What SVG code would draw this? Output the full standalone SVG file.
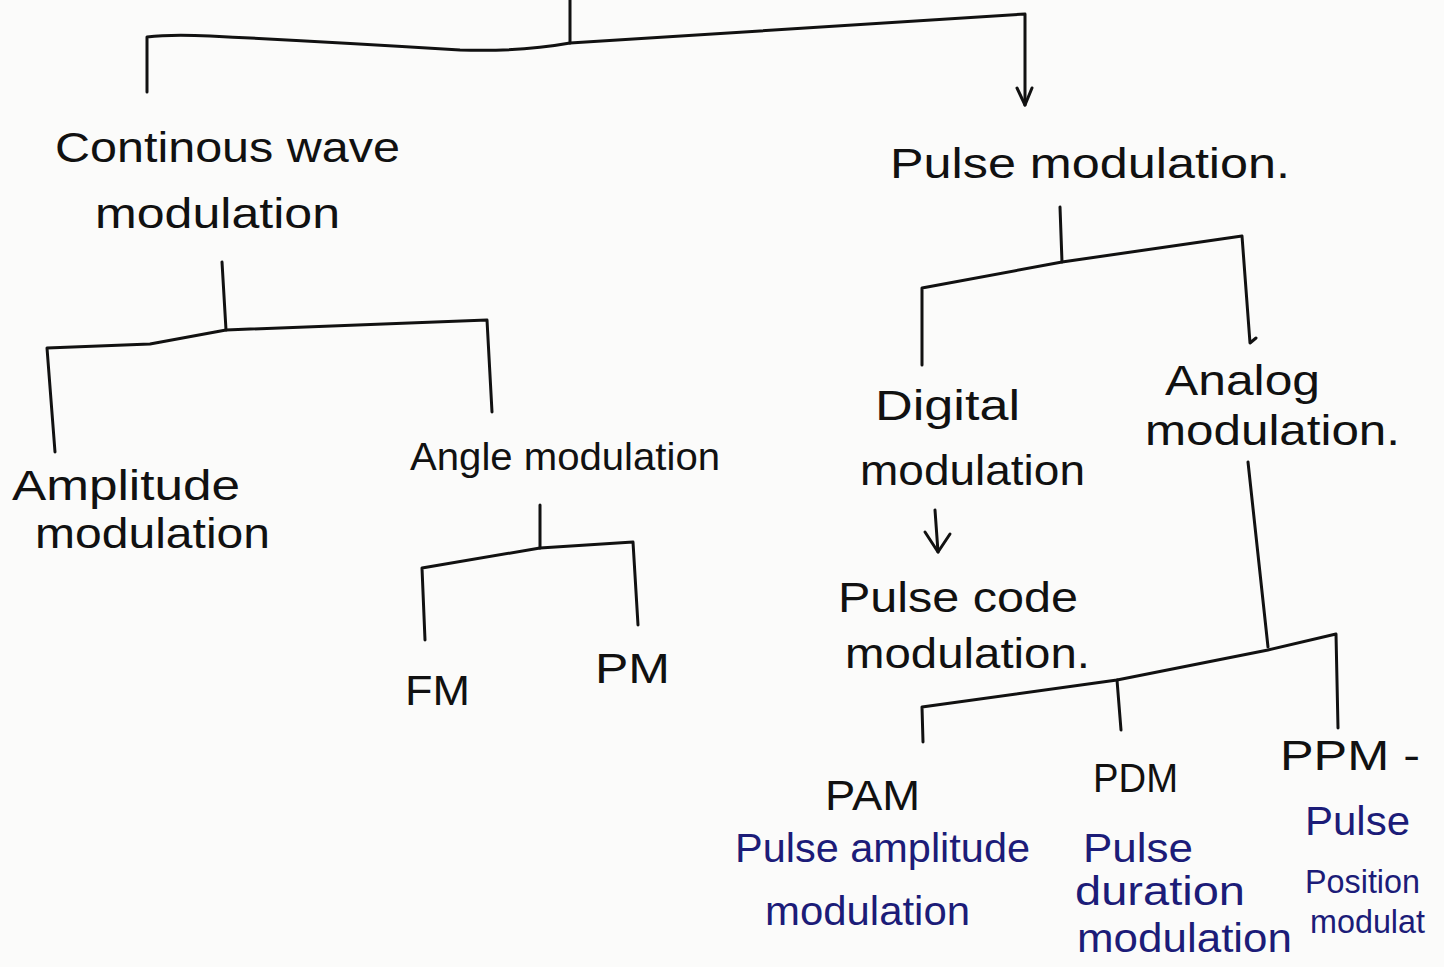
<svg xmlns="http://www.w3.org/2000/svg" width="1444" height="967" viewBox="0 0 1444 967">
<style>
.bg{fill:#fbfbfa}
.c{fill:none;stroke:#111;stroke-width:3;stroke-linecap:round;stroke-linejoin:round}
.t{font-family:"Liberation Sans","DejaVu Sans",sans-serif;font-size:42px;fill:#111}
.b{font-family:"Liberation Sans","DejaVu Sans",sans-serif;font-size:40px;fill:#1c1c78}
</style>
<rect class="bg" x="0" y="0" width="1444" height="967"/>
<g id="connectors">
<path class="c" d="M570 0 L570 43"/>
<path class="c" d="M147 92 L147 37 Q170 34 210 36 Q330 42 460 50 Q520 52 570 43 L1025 14 L1025 105"/>
<path class="c" d="M1017 88 L1025 105 L1032 88"/>
<path class="c" d="M222 262 L226 330"/>
<path class="c" d="M55 452 L47 348 L150 344 L226 330 L487 320 L492 412"/>
<path class="c" d="M540 505 L540 548"/>
<path class="c" d="M425 640 L422 568 L540 548 L633 542 L638 625"/>
<path class="c" d="M1060 207 L1062 262"/>
<path class="c" d="M922 365 L922 288 L1062 262 L1242 236 L1250 343 L1256 338"/>
<path class="c" d="M935 510 L938 552"/>
<path class="c" d="M925 532 L938 552 L950 534"/>
<path class="c" d="M1248 462 L1268 647"/>
<path class="c" d="M923 742 L922 707 L1117 680 L1268 650 L1336 634 L1338 728"/>
<path class="c" d="M1117 680 L1121 730"/>
</g>
<g id="n-continuous"><text class="t" x="55" y="162" textLength="345" lengthAdjust="spacingAndGlyphs">Continous wave</text><text class="t" x="95" y="228" textLength="245" lengthAdjust="spacingAndGlyphs">modulation</text></g>
<g id="n-pulse"><text class="t" x="890" y="178" textLength="400" lengthAdjust="spacingAndGlyphs">Pulse modulation.</text></g>
<g id="n-amplitude"><text class="t" x="12" y="500" textLength="228" lengthAdjust="spacingAndGlyphs">Amplitude</text><text class="t" x="35" y="548" textLength="235" lengthAdjust="spacingAndGlyphs">modulation</text></g>
<g id="n-angle"><text class="t" x="410" y="470" style="font-size:39px" textLength="310" lengthAdjust="spacingAndGlyphs">Angle modulation</text></g>
<g id="n-fm"><text class="t" x="405" y="705" textLength="65" lengthAdjust="spacingAndGlyphs">FM</text></g>
<g id="n-pm"><text class="t" x="595" y="683" textLength="75" lengthAdjust="spacingAndGlyphs">PM</text></g>
<g id="n-digital"><text class="t" x="875" y="420" textLength="145" lengthAdjust="spacingAndGlyphs">Digital</text><text class="t" x="860" y="485" textLength="225" lengthAdjust="spacingAndGlyphs">modulation</text></g>
<g id="n-analog"><text class="t" x="1165" y="395" textLength="155" lengthAdjust="spacingAndGlyphs">Analog</text><text class="t" x="1145" y="445" textLength="255" lengthAdjust="spacingAndGlyphs">modulation.</text></g>
<g id="n-pcm"><text class="t" x="838" y="612" textLength="240" lengthAdjust="spacingAndGlyphs">Pulse code</text><text class="t" x="845" y="668" textLength="245" lengthAdjust="spacingAndGlyphs">modulation.</text></g>
<g id="n-pam"><text class="t" x="825" y="810" textLength="95" lengthAdjust="spacingAndGlyphs">PAM</text><text class="b" x="735" y="862" textLength="295" lengthAdjust="spacingAndGlyphs">Pulse amplitude</text><text class="b" x="765" y="925" textLength="205" lengthAdjust="spacingAndGlyphs">modulation</text></g>
<g id="n-pdm"><text class="t" x="1093" y="792" style="font-size:40px" textLength="85" lengthAdjust="spacingAndGlyphs">PDM</text><text class="b" x="1083" y="862" textLength="110" lengthAdjust="spacingAndGlyphs">Pulse</text><text class="b" x="1075" y="905" textLength="170" lengthAdjust="spacingAndGlyphs">duration</text><text class="b" x="1077" y="952" textLength="215" lengthAdjust="spacingAndGlyphs">modulation</text></g>
<g id="n-ppm"><text class="t" x="1280" y="770" textLength="140" lengthAdjust="spacingAndGlyphs">PPM -</text><text class="b" x="1305" y="835" textLength="105" lengthAdjust="spacingAndGlyphs">Pulse</text><text class="b" x="1305" y="893" style="font-size:33px" textLength="115" lengthAdjust="spacingAndGlyphs">Position</text><text class="b" x="1310" y="933" style="font-size:33px" textLength="115" lengthAdjust="spacingAndGlyphs">modulat</text></g>
</svg>
